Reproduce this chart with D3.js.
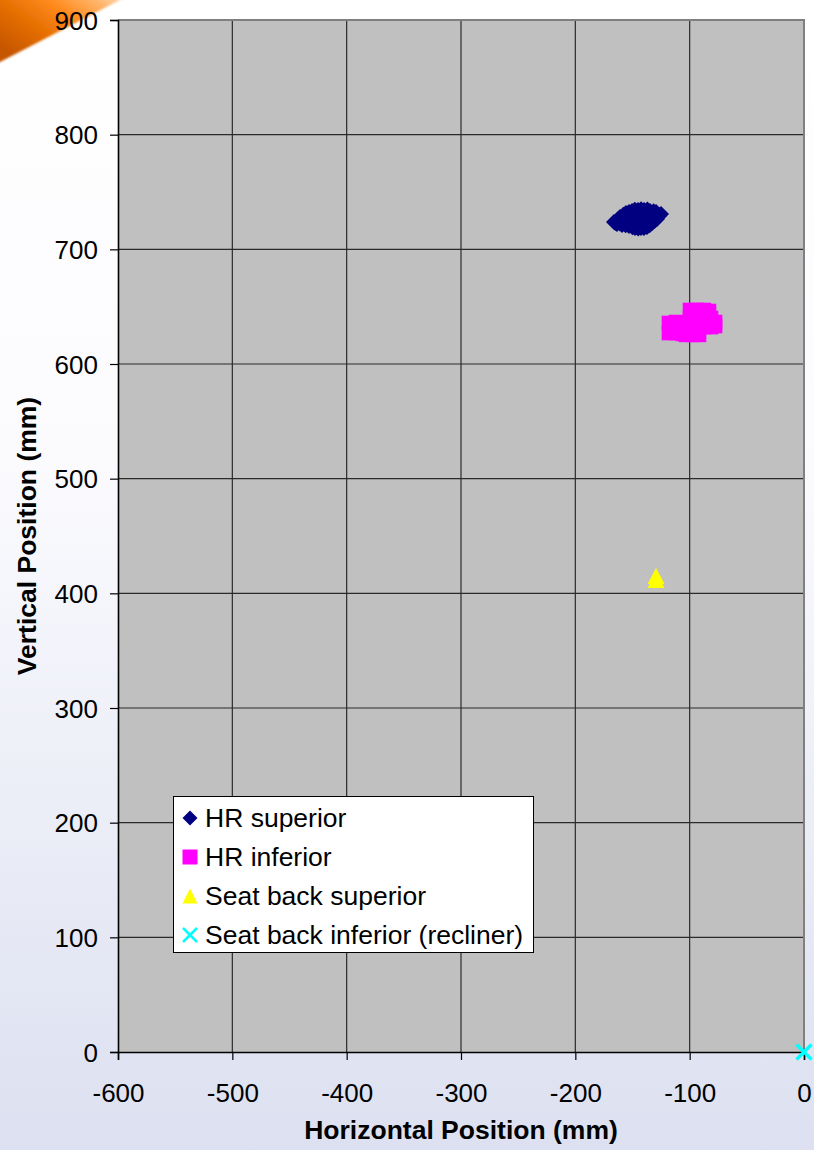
<!DOCTYPE html>
<html>
<head>
<meta charset="utf-8">
<script src="https://cdn.jsdelivr.net/npm/d3@7"></script>
<style>
  html, body { margin: 0; padding: 0; background: #fff; }
  svg { display: block; }
  text { font-family: "Liberation Sans", Arial, sans-serif; fill: #000; }
</style>
</head>
<body>
<svg id="chart" width="814" height="1150"></svg>
<script>
// ---- Data ----
const xTicks = [-600, -500, -400, -300, -200, -100, 0];
const yTicks = [0, 100, 200, 300, 400, 500, 600, 700, 800, 900];

const seriesNames = ["HR superior", "HR inferior", "Seat back superior", "Seat back inferior (recliner)"];

const hrSuperiorX = [-166.2, -160.9, -155.7, -150.4, -145.2, -139.9, -134.7, -129.4, -125.1, -128.6, -132.9, -137.3, -142.6, -147.8, -153.1, -159.2, -163.6, -152.2, -143.4, -134.7, -146.9, -139.1, -157.4,
  -148.0, -142.5, -137.0, -131.5, -153.0, -158.0, -162.5, -140.0, -145.0, -150.0, -135.0, -130.5, -156.0, -161.0, -165.0, -126.5];
const hrSuperiorY = [723.8, 728.2, 731.7, 733.4, 734.3, 734.3, 733.4, 732.6, 730.8, 726.5, 723.0, 719.5, 718.6, 718.6, 720.3, 721.2, 722.1, 727.3, 727.3, 728.2, 723.0, 723.8, 725.6,
  734.5, 735.0, 734.8, 733.2, 732.5, 730.2, 726.5, 718.6, 718.2, 719.2, 721.0, 725.0, 721.0, 722.5, 723.0, 729.5];

const hrInferiorX = [-118.1, -118.1, -112.0, -112.0, -105.8, -99.7, -93.6, -87.5, -83.1, -99.7, -93.6, -87.5, -81.3, -77.8, -77.8, -99.7, -93.6, -87.5, -81.3, -103.2, -97.1, -91.8];
const hrInferiorY = [635.8, 627.0, 636.6, 627.0, 626.2, 647.1, 647.1, 647.1, 646.2, 640.1, 640.1, 640.1, 640.1, 636.6, 633.1, 632.2, 632.2, 632.2, 632.2, 625.4, 625.4, 625.4];

const seatSuperiorX = [-129.4, -129.4];
const seatSuperiorY = [415.1, 411.6];

const seatInferiorX = [0];
const seatInferiorY = [0];

const colors = ["#000080", "#ff00ff", "#ffff00", "#00ffff"];

// ---- Layout ----
const svg = d3.select("#chart");
const W = 814, H = 1150;
const pLeft = 118, pRight = 804, pTop = 20, pBottom = 1052;

const x = d3.scaleLinear().domain([-600, 0]).range([pLeft, pRight]);
const y = d3.scaleLinear().domain([0, 900]).range([pBottom, pTop]);

const defs = svg.append("defs");
const bg = defs.append("linearGradient").attr("id", "bg").attr("x1", 0).attr("y1", 0).attr("x2", 0).attr("y2", 1);
bg.append("stop").attr("offset", "0").attr("stop-color", "#ffffff");
bg.append("stop").attr("offset", "0.4").attr("stop-color", "#fbfbfe");
bg.append("stop").attr("offset", "1").attr("stop-color", "#dce0f0");

const og = defs.append("linearGradient").attr("id", "og").attr("x1", 0).attr("y1", 0.7).attr("x2", 1).attr("y2", 0);
og.append("stop").attr("offset", "0").attr("stop-color", "#c65600");
og.append("stop").attr("offset", "0.3").attr("stop-color", "#e56e00");
og.append("stop").attr("offset", "0.55").attr("stop-color", "#ff8a1c");
og.append("stop").attr("offset", "0.8").attr("stop-color", "#ffb870");
og.append("stop").attr("offset", "1").attr("stop-color", "#ffe8d0");
defs.append("filter").attr("id", "blur").append("feGaussianBlur").attr("stdDeviation", 1.3);

svg.append("rect").attr("width", W).attr("height", H).attr("fill", "url(#bg)");
svg.append("path").attr("d", "M-5,-5 L132,-5 L120,0 L0,62 L-5,64 Z").attr("fill", "url(#og)").attr("filter", "url(#blur)");

// Plot area
svg.append("rect").attr("x", pLeft).attr("y", pTop).attr("width", pRight - pLeft).attr("height", pBottom - pTop)
  .attr("fill", "#c0c0c0");

// Gridlines
svg.append("g").selectAll("line").data(xTicks.slice(1, -1)).join("line")
  .attr("x1", d => x(d)).attr("x2", d => x(d)).attr("y1", pTop).attr("y2", pBottom)
  .attr("stroke", "#2a2a2a").attr("stroke-width", 1.2);
svg.append("g").selectAll("line").data(yTicks.slice(1, -1)).join("line")
  .attr("x1", pLeft).attr("x2", pRight).attr("y1", d => y(d)).attr("y2", d => y(d))
  .attr("stroke", "#2a2a2a").attr("stroke-width", 1.2);

// Top/right border
svg.append("path").attr("d", `M${pLeft},${pTop} H${pRight} V${pBottom}`).attr("fill", "none")
  .attr("stroke", "#808080").attr("stroke-width", 2);

// Axes
const xAxis = svg.append("g").attr("transform", `translate(0,${pBottom})`)
  .call(d3.axisBottom(x).tickValues(xTicks).tickSize(8).tickPadding(24).tickFormat(d3.format("d")));
const yAxis = svg.append("g").attr("transform", `translate(${pLeft},0)`)
  .call(d3.axisLeft(y).tickValues(yTicks).tickSize(8).tickPadding(12).tickFormat(d3.format("d")));
[xAxis, yAxis].forEach(a => {
  a.select(".domain").attr("stroke", "#000").attr("stroke-width", 1.6);
  a.selectAll(".tick line").attr("stroke", "#000").attr("stroke-width", 1.2);
  a.selectAll(".tick text").attr("font-size", 26).attr("font-family", "Liberation Sans, Arial, sans-serif").attr("fill", "#000");
});
xAxis.selectAll(".tick text").text(d => d < 0 ? "-" + Math.abs(d) : d);
yAxis.selectAll(".tick text").attr("dy", "0.35em");

// Axis titles
svg.append("text").attr("x", (pLeft + pRight) / 2).attr("y", 1139).attr("text-anchor", "middle")
  .attr("font-size", 26.5).attr("font-weight", "bold").text("Horizontal Position (mm)");
svg.append("text").attr("transform", `translate(36,${(pTop + pBottom) / 2}) rotate(-90)`).attr("text-anchor", "middle")
  .attr("font-size", 26.5).attr("font-weight", "bold").text("Vertical Position (mm)");

// Marker path generators
function diamond(cx, cy, r) { return `M${cx},${cy - r} L${cx + r},${cy} L${cx},${cy + r} L${cx - r},${cy} Z`; }
function square(cx, cy, r) { return `M${cx - r},${cy - r} H${cx + r} V${cy + r} H${cx - r} Z`; }
function triangle(cx, cy, w, h) { return `M${cx},${cy - h / 2} L${cx + w / 2},${cy + h / 2} L${cx - w / 2},${cy + h / 2} Z`; }
function cross(cx, cy, r) { return `M${cx - r},${cy - r} L${cx + r},${cy + r} M${cx + r},${cy - r} L${cx - r},${cy + r}`; }

const pts = (xs, ys) => xs.map((v, i) => [v, ys[i]]);

svg.append("g").selectAll("path").data(pts(hrSuperiorX, hrSuperiorY)).join("path")
  .attr("d", d => diamond(x(d[0]), y(d[1]), 8)).attr("fill", colors[0]);
svg.append("g").selectAll("path").data(pts(hrInferiorX, hrInferiorY)).join("path")
  .attr("d", d => square(x(d[0]), y(d[1]), 7.3)).attr("fill", colors[1]);
svg.append("g").selectAll("path").data(pts(seatSuperiorX, seatSuperiorY)).join("path")
  .attr("d", d => triangle(x(d[0]), y(d[1]), 17, 16)).attr("fill", colors[2]);
svg.append("g").selectAll("path").data(pts(seatInferiorX, seatInferiorY)).join("path")
  .attr("d", d => cross(x(d[0]), y(d[1]), 7.5)).attr("fill", "none").attr("stroke", colors[3]).attr("stroke-width", 3.4);

// Legend
const lg = svg.append("g");
lg.append("rect").attr("x", 173.5).attr("y", 796.5).attr("width", 360).attr("height", 156)
  .attr("fill", "#fff").attr("stroke", "#000").attr("stroke-width", 1);
const legY = [818, 857, 896, 935];
const lmx = 190;
lg.append("path").attr("d", diamond(lmx, legY[0], 7.5)).attr("fill", colors[0]);
lg.append("path").attr("d", square(lmx, legY[1], 7.5)).attr("fill", colors[1]);
lg.append("path").attr("d", triangle(lmx, legY[2], 15, 15)).attr("fill", colors[2]);
lg.append("path").attr("d", cross(lmx, legY[3], 7)).attr("fill", "none").attr("stroke", colors[3]).attr("stroke-width", 2.5);
lg.selectAll("text.leg").data(seriesNames).join("text").attr("class", "leg")
  .attr("x", 205).attr("y", (d, i) => legY[i]).attr("dy", "0.35em")
  .attr("font-size", 26.5).text(d => d);
</script>
</body>
</html>
